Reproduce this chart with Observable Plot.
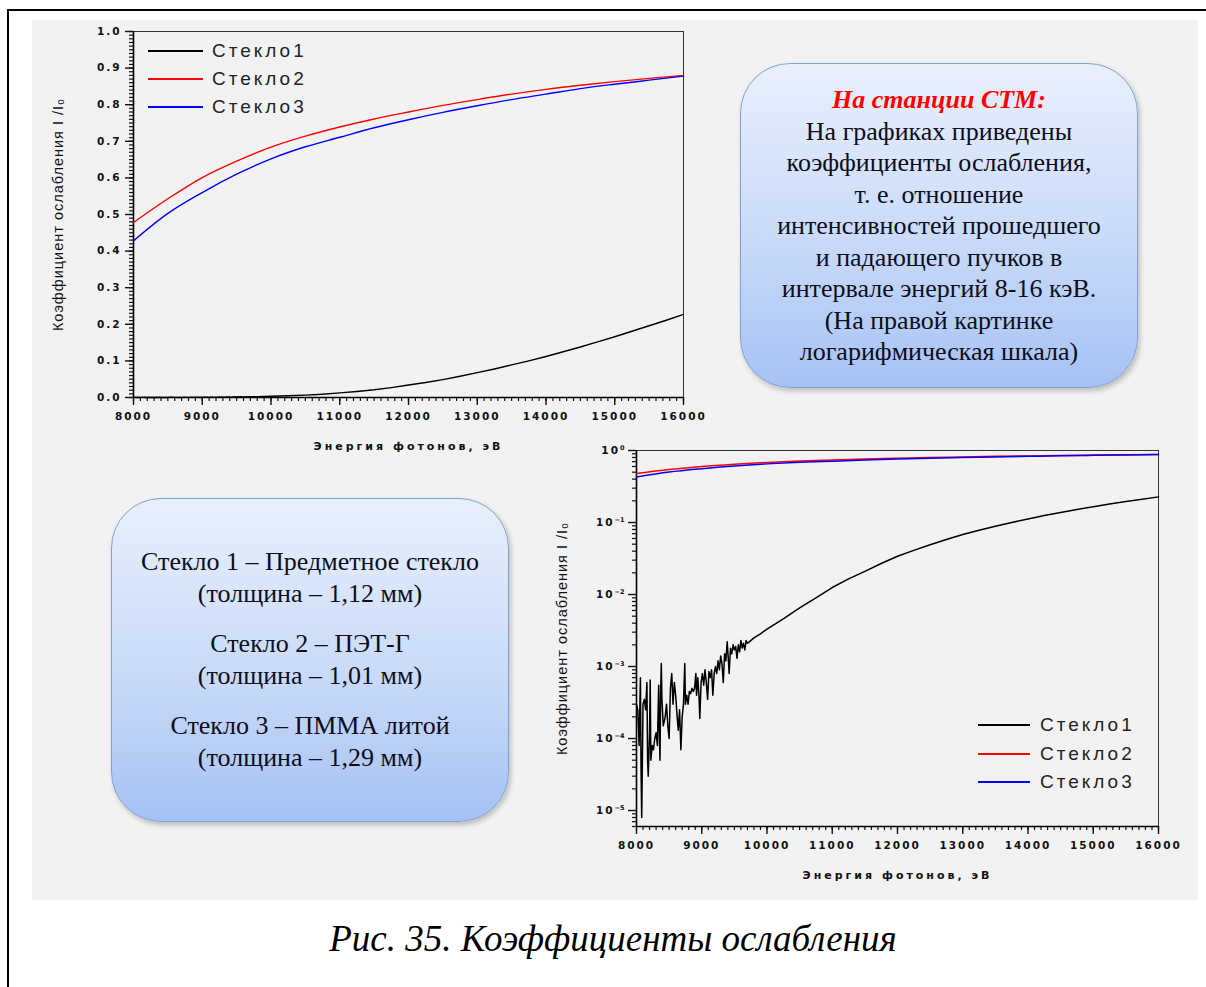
<!DOCTYPE html>
<html><head><meta charset="utf-8">
<script src="https://cdn.jsdelivr.net/npm/d3@7"></script>
<script src="https://cdn.jsdelivr.net/npm/@observablehq/plot@0.6"></script>
<style>
body{margin:0;background:#fff;width:1206px;height:987px;overflow:hidden;position:relative;font-family:"Liberation Sans",sans-serif}
#frameTop{position:absolute;left:7px;top:9px;width:1199px;height:2px;background:#000}
#frameLeft{position:absolute;left:7px;top:9px;width:2px;height:978px;background:#000}
#panel{position:absolute;left:32px;top:20px;width:1166px;height:880px;background:#f2f2f2}
.chart{position:absolute}
.box{position:absolute;box-sizing:border-box;border-radius:50px;border:1.5px solid #7ea2d6;background:linear-gradient(#e9f0fc,#c9daf8 55%,#a6c2f4);box-shadow:2px 3px 5px rgba(0,0,0,0.22);font-family:"Liberation Serif","Times New Roman",serif;color:#0d0d1c;text-align:center;white-space:nowrap}
.legend{position:absolute}
.lrow{display:flex;align-items:center}
.lline{display:inline-block;height:1.6px}
.ltext{font-family:"Liberation Sans",sans-serif;font-size:19px;letter-spacing:3px;color:#222}
#caption{position:absolute;left:0;width:1226px;top:916px;text-align:center;font-family:"Liberation Serif","Times New Roman",serif;font-style:italic;font-size:37px;color:#000;line-height:46px}
</style>
</head><body>
<div id="frameTop"></div><div id="frameLeft"></div>
<div id="panel"></div>
<div id="c1" class="chart" style="left:32px;top:20px"></div>
<div id="c2" class="chart" style="left:540px;top:430px"></div>
<div class="box" style="left:740px;top:63px;width:398px;height:325px">
  <div style="padding-top:20px;line-height:31.5px;font-size:26px">
    <div style="color:#ff0000;font-style:italic;font-weight:bold">На станции СТМ:</div>
    <div>На графиках приведены</div>
    <div>коэффициенты ослабления,</div>
    <div>т. е. отношение</div>
    <div>интенсивностей прошедшего</div>
    <div>и падающего пучков в</div>
    <div>интервале энергий 8-16 кэВ.</div>
    <div>(На правой картинке</div>
    <div>логарифмическая шкала)</div>
  </div>
</div>
<div class="box" style="left:111px;top:498px;width:398px;height:324px">
  <div style="padding-top:47px;line-height:32px;font-size:26px">
    <div>Стекло 1 – Предметное стекло</div>
    <div>(толщина – 1,12 мм)</div>
    <div style="margin-top:18px">Стекло 2 – ПЭТ-Г</div>
    <div>(толщина – 1,01 мм)</div>
    <div style="margin-top:18px">Стекло 3 – ПММА литой</div>
    <div>(толщина – 1,29 мм)</div>
  </div>
</div>
<div id="caption">Рис. 35. Коэффициенты ослабления</div>
<script>
// ---- data ----
const seriesNames = ["Стекло1", "Стекло2", "Стекло3"];
const seriesColors = ["#000000", "#ff0000", "#0000ff"];

const energy23 = [8000, 8500, 9000, 9500, 10000, 10500, 11000, 11500, 12000, 12500, 13000, 13500, 14000, 14500, 15000, 15500, 16000];
const glass2 = [0.478, 0.543, 0.601, 0.646, 0.684, 0.714, 0.739, 0.761, 0.780, 0.798, 0.814, 0.829, 0.842, 0.853, 0.863, 0.872, 0.880];
const glass3 = [0.428, 0.503, 0.560, 0.610, 0.652, 0.685, 0.711, 0.737, 0.759, 0.779, 0.797, 0.814, 0.829, 0.844, 0.856, 0.867, 0.878];

const energy1 = [8000, 8020, 8040, 8060, 8070, 8080, 8100, 8120, 8140, 8160, 8170, 8180, 8200, 8210, 8220, 8240, 8260, 8280, 8300, 8320,
  8340, 8350, 8360, 8370, 8380, 8390, 8410, 8440, 8460, 8480, 8500, 8520, 8540, 8560, 8580, 8600, 8620, 8640, 8660, 8680,
  8700, 8720, 8740, 8750, 8770, 8790, 8810, 8830, 8850, 8870, 8890, 8910, 8920, 8940, 8960, 8970, 8990, 9010, 9030, 9050,
  9070, 9090, 9110, 9130, 9150, 9170, 9190, 9210, 9230, 9250, 9270, 9290, 9310, 9330, 9350, 9370, 9390, 9400, 9420, 9440,
  9460, 9480, 9500, 9520, 9540, 9560, 9580, 9600, 9620, 9640, 9660, 9680, 9700, 9800, 9900, 10000, 10250, 10500, 10750, 11000,
  11250, 11500, 11750, 12000, 12250, 12500, 12750, 13000, 13250, 13500, 13750, 14000, 14250, 14500, 14750, 15000, 15250, 15500, 15750, 16000];
const glass1 = [3.0e-4, 2.5e-4, 8e-5, 7e-4, 3.5e-5, 8e-6, 3e-4, 3.5e-4, 2.5e-4, 6e-4, 5e-5, 3e-5, 1.2e-4, 6.5e-4, 5e-5, 8e-5, 7e-5, 1e-4, 1.2e-4, 8e-5,
  5.5e-4, 1.2e-4, 5e-5, 4.5e-4, 1.1e-3, 3.5e-4, 1.5e-4, 2e-4, 3e-4, 1.5e-4, 1e-4, 5e-4, 8e-4, 3e-4, 6e-4, 4e-4, 2.2e-4, 1.3e-4, 2.5e-4, 7e-5,
  2e-4, 3e-4, 1.1e-3, 3e-4, 4e-4, 3e-4, 4.5e-4, 4.2e-4, 5e-4, 4.5e-4, 5e-4, 8e-4, 4e-4, 7e-4, 3.5e-4, 1.9e-4, 6e-4, 8e-4, 5.5e-4, 9e-4,
  6e-4, 3.5e-4, 8.5e-4, 7e-4, 9e-4, 4e-4, 8e-4, 1e-3, 8e-4, 1.2e-3, 9e-4, 1.4e-3, 1.1e-3, 6e-4, 1.5e-3, 1.2e-3, 2.2e-3, 1.6e-3, 8e-4, 1.8e-3,
  1.5e-3, 2e-3, 1.7e-3, 1.9e-3, 1.3e-3, 2e-3, 1.6e-3, 2.3e-3, 1.8e-3, 2.1e-3, 1.7e-3, 2.3e-3, 2.1e-3, 2.5e-3, 2.85e-3, 3.3e-3, 4.6e-3, 6.5e-3, 9.0e-3, 0.0125,
  0.0165, 0.021, 0.027, 0.034, 0.041, 0.049, 0.058, 0.068, 0.078, 0.089, 0.100, 0.112, 0.125, 0.138, 0.152, 0.166, 0.181, 0.196, 0.211, 0.227];

const xTicks = [8000, 9000, 10000, 11000, 12000, 13000, 14000, 15000, 16000];
const yTicksLin = [0, 0.1, 0.2, 0.3, 0.4, 0.5, 0.6, 0.7, 0.8, 0.9, 1.0];
const yTicksLinLabels = ["0.0", "0.1", "0.2", "0.3", "0.4", "0.5", "0.6", "0.7", "0.8", "0.9", "1.0"];
const yTicksLog = [1, 0.1, 0.01, 0.001, 0.0001, 0.00001];
const yTicksLogExp = ["0", "-1", "-2", "-3", "-4", "-5"];
const xLabel = "Энергия фотонов, эВ";
const yLabel = "Коэффициент ослабления I /I₀";

// ---- tables ----
const rows1 = energy1.map((e, i) => ({E: e, v: glass1[i], s: seriesNames[0]}));
const rows23 = [];
energy23.forEach((e, i) => rows23.push({E: e, v: glass2[i], s: seriesNames[1]}));
energy23.forEach((e, i) => rows23.push({E: e, v: glass3[i], s: seriesNames[2]}));

const minorX = d3.range(8000, 16001, 100);
const minorYLin = d3.range(0, 101).map(d => d / 100);
const minorYLog = [];
for (let k = -6; k <= -1; k++) for (let m = 2; m <= 9; m++) { const v = m * Math.pow(10, k); if (v >= 6e-6 && v < 1) minorYLog.push(v); }

const common = {fontFamily: "DejaVu Sans"};

function axesX() {
  return [
    Plot.axisX({ticks: minorX, tickSize: 4, tickFormat: () => "", label: null, strokeWidth: 1.2}),
    Plot.axisX({ticks: xTicks, tickSize: 8, tickPadding: 7, tickFormat: d => String(d), strokeWidth: 1.4,
      label: xLabel, labelAnchor: "center", labelArrow: "none", labelOffset: 52, fontSize: 10})
  ];
}
function dataLines(w) {
  return [
    Plot.line(rows23, {x: "E", y: "v", stroke: "s", z: "s", strokeWidth: w, curve: "monotone-x"}),
    Plot.line(rows1, {x: "E", y: "v", stroke: "s", strokeWidth: w})
  ];
}

const chart1 = Plot.plot({
  width: 680, height: 450,
  marginLeft: 101, marginTop: 11, marginBottom: 73, marginRight: 29,
  style: {background: "transparent", overflow: "visible", ...common, color: "#111"},
  x: {type: "linear", domain: [8000, 16000], label: null},
  y: {domain: [0, 1], label: null},
  color: {domain: seriesNames, range: seriesColors},
  marks: [
    Plot.frame({stroke: "#333", strokeWidth: 1}),
    ...axesX(),
    Plot.axisY({ticks: minorYLin, tickSize: 4, tickFormat: () => "", label: null, strokeWidth: 1.2}),
    Plot.axisY({ticks: yTicksLin, tickSize: 8, tickPadding: 4, tickFormat: d => yTicksLinLabels[yTicksLin.indexOf(d)], strokeWidth: 1.4,
      label: yLabel, labelAnchor: "center", labelArrow: "none", labelOffset: 81, fontSize: 10}),
    Plot.ruleX([8000], {stroke: "#000", strokeWidth: 1.6}),
    Plot.ruleY([0], {stroke: "#000", strokeWidth: 1.6}),
    ...dataLines(1.4)
  ]
});
document.getElementById("c1").appendChild(chart1);

const chart2 = Plot.plot({
  width: 650, height: 470,
  marginLeft: 96, marginTop: 20, marginBottom: 74, marginRight: 32,
  style: {background: "transparent", overflow: "visible", ...common, color: "#111"},
  x: {type: "linear", domain: [8000, 16000], label: null},
  y: {type: "log", domain: [6e-6, 1], label: null},
  color: {domain: seriesNames, range: seriesColors},
  marks: [
    Plot.frame({stroke: "#333", strokeWidth: 1}),
    ...axesX(),
    Plot.axisY({ticks: minorYLog, tickSize: 4, tickFormat: () => "", label: null, strokeWidth: 1.2}),
    Plot.axisY({ticks: yTicksLog, tickSize: 8, tickPadding: 4, tickFormat: d => yTicksLogExp[yTicksLog.indexOf(d)], strokeWidth: 1.4,
      label: yLabel, labelAnchor: "center", labelArrow: "none", labelOffset: 80, fontSize: 10}),
    Plot.ruleX([8000], {stroke: "#000", strokeWidth: 1.6}),
    Plot.ruleY([6e-6], {stroke: "#000", strokeWidth: 1.6}),
    ...dataLines(1.5)
  ]
});
document.getElementById("c2").appendChild(chart2);

// styling of axis texts
for (const svg of [chart1, chart2]) {
  const s = d3.select(svg);
  s.selectAll('[aria-label="x-axis tick label"] text, [aria-label="y-axis tick label"] text')
    .style("font-weight", "bold").style("letter-spacing", "2px").style("font-size", "10.5px");
  s.selectAll('[aria-label="x-axis label"] text').style("font-weight", "bold").style("font-size", "11px").style("letter-spacing", "3px");
  s.selectAll('[aria-label="y-axis label"] text').style("font-size", "14.5px").style("letter-spacing", "1px").style("font-family", "Liberation Sans");
}
d3.select(chart2).selectAll('[aria-label="y-axis tick label"] text').each(function() {
  const t = d3.select(this);
  const e = t.text();
  if (!e) return;
  t.text("10");
  t.append("tspan").attr("dy", "-0.55em").style("font-size", "6.5px").style("letter-spacing", "0px").text(e.replace("-", "−"));
});

// legends
function makeLegend(left, top, lineW, gap, rowH) {
  const div = document.createElement("div");
  div.className = "legend";
  div.style.left = left + "px"; div.style.top = top + "px";
  seriesNames.forEach((name, i) => {
    const row = document.createElement("div");
    row.className = "lrow"; row.style.height = rowH + "px";
    const ln = document.createElement("span");
    ln.className = "lline"; ln.style.width = lineW + "px"; ln.style.marginRight = gap + "px"; ln.style.background = seriesColors[i];
    const tx = document.createElement("span");
    tx.className = "ltext"; tx.textContent = name;
    row.appendChild(ln); row.appendChild(tx);
    div.appendChild(row);
  });
  document.body.appendChild(div);
}
makeLegend(148, 37, 55, 9, 28);
makeLegend(978, 711, 52, 10, 28.5);
</script>
</body></html>
